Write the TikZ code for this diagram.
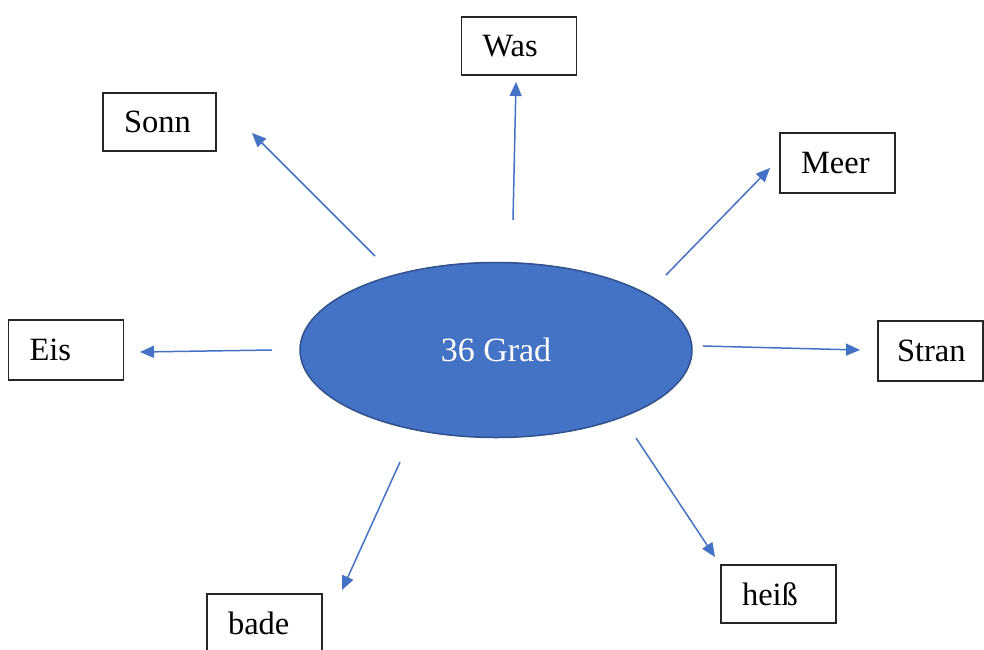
\documentclass[tikz,border=0pt]{standalone}
\usepackage{fontspec}
\setmainfont{Liberation Serif}
\usepackage{tikz}
\usetikzlibrary{
  arrows.meta,
  shapes.geometric,
}
\definecolor{gradblue}{HTML}{4472C4}
\definecolor{gradedge}{HTML}{2F528F}

\begin{document}
\begin{tikzpicture}[
    x=1pt, y=-1pt,
    wordbox/.style={draw=black!85, line width=1.4pt, fill=white,
                    text width=73pt, align=left, inner xsep=21pt, inner ysep=0pt,
                    minimum height=58pt, font=\fontsize{32.5}{33}\selectfont},
    hub/.style={ellipse, draw=gradedge, fill=gradblue, line width=1.5pt,
                minimum width=392pt, minimum height=175pt,
                text=white, font=\fontsize{34}{34}\selectfont},
    arrow/.style={draw=gradblue, line width=1.5pt,
                  -{Triangle[length=14pt, width=12pt]}},
  ]
  \useasboundingbox (0,0) rectangle (984,649);

  \node[hub] (grad) at (496,350) {36 Grad};

  \node[wordbox] (was)   at (519,46)    {Was};
  \node[wordbox, text width=71pt] (sonn)  at (159.5,122) {Sonn};
  \node[wordbox, minimum height=60pt] (meer)  at (837.5,163) {Meer};
  \node[wordbox, minimum height=60pt] (eis)   at (66,350)    {Eis};
  \node[wordbox, text width=67pt, inner xsep=19pt, minimum height=60pt] (stran) at (930.5,351) {Stran};
  \node[wordbox] (bade)  at (264.5,623) {bade};
  \node[wordbox] (heiss) at (778.5,594) {hei\ss};

  % arrow ends
  \coordinate (was-a)   at (513,220);  \coordinate (was-b)   at (516,82);
  \coordinate (sonn-a)  at (375,256);  \coordinate (sonn-b)  at (252,133);
  \coordinate (meer-a)  at (666,275);  \coordinate (meer-b)  at (770,168);
  \coordinate (eis-a)   at (272,350);  \coordinate (eis-b)   at (140,352);
  \coordinate (stran-a) at (703,346);  \coordinate (stran-b) at (860,350);
  \coordinate (bade-a)  at (400,462);  \coordinate (bade-b)  at (342,590);
  \coordinate (heiss-a) at (636,438);  \coordinate (heiss-b) at (715,557);

  \foreach \w in {was, sonn, meer, eis, stran, bade, heiss}
    \draw[arrow] (\w-a) -- (\w-b);
\end{tikzpicture}
\end{document}
